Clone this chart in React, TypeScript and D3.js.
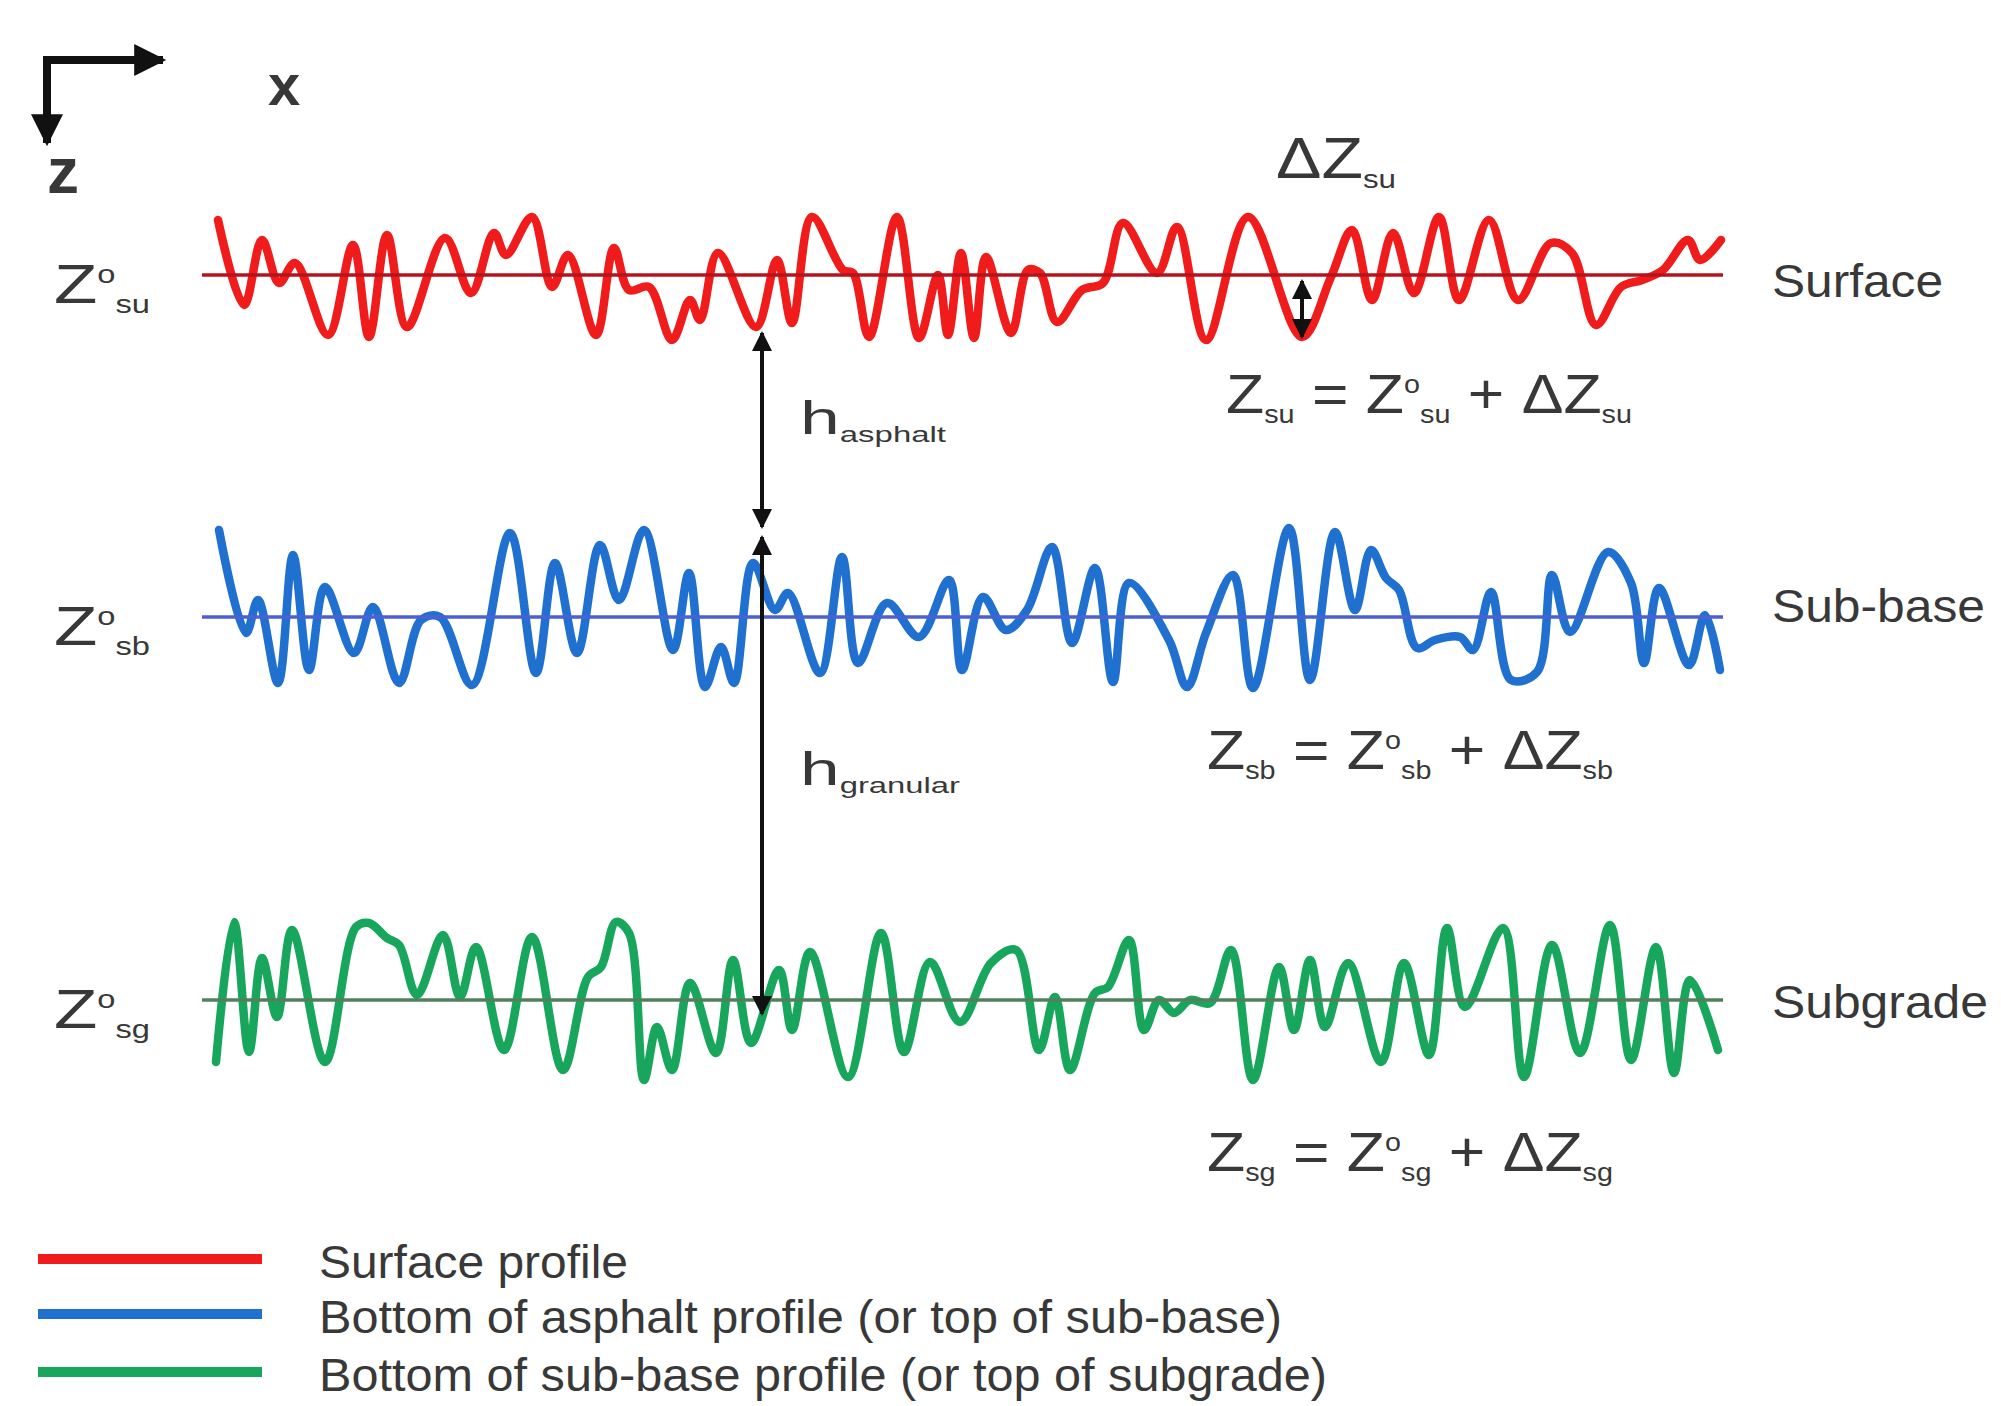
import { useRef, useEffect } from "react";
import * as d3 from "d3";

const W = 2001;
const H = 1406;

/** layers: interface name, subscript, nominal depth (mm) */
const layerNames = ["Surface", "Sub-base", "Subgrade"];
const layerSubs = ["su", "sb", "sg"];
const layerDepths = [0, 171, 362.5];
const profileColors = ["#f01c1c", "#1f70cf", "#18a65c"];
const baseColors = ["#b5141c", "#4c60d4", "#52805d"];

const legendLabels = [
  "Surface profile",
  "Bottom of asphalt profile (or top of sub-base)",
  "Bottom of sub-base profile (or top of subgrade)",
];

/** [station, deviation dz (mm, + downwards)] */
const surfaceProfile: [number, number][] = [
  [21.8, -27.5], [24.4, 15], [26.2, -17.5], [27.9, 4], [29.5, -6], [32.8, 30],
  [35.3, -15], [36.9, 31], [38.7, -20], [40.7, 26], [44.5, -18.5], [47.1, 9],
  [49.4, -21], [50.6, -10], [53.2, -29], [55.2, 6], [56.8, -10], [59.6, 30],
  [61.4, -13.5], [62.9, 7.5], [64.9, 6], [67.2, 32.5], [69.0, 12.5], [70.0, 22.5],
  [71.8, -11], [75.6, 26], [77.7, -7.5], [79.2, 24], [81.2, -29], [84.3, -2.5],
  [85.3, -1], [86.9, 31], [89.7, -29], [91.9, 31.5], [93.8, 0], [94.8, 30],
  [96.1, -11], [97.4, 31.5], [98.6, -9], [101.1, 29], [102.8, -2.5], [104.0, -1],
  [105.7, 23.5], [108.2, 7.5], [110.3, 4], [112.3, -26], [115.7, -1], [117.7, -24],
  [120.6, 32.5], [124.8, -29], [130.2, 31], [133.1, 1], [135.2, -22.5], [137.2, 12.5],
  [139.3, -21], [141.4, 9], [143.9, -29], [145.9, 12.5], [148.9, -27.5], [151.8, 12.5],
  [155.1, -16], [157.2, -11], [159.6, 25], [162.1, 6], [164.2, 2.5], [166.3, -2.5],
  [168.8, -17.5], [170.0, -7.5], [172.1, -17.5],
];

const subbaseProfile: [number, number][] = [
  [21.9, -43.5], [24.6, 8], [25.8, -8.5], [27.8, 33], [29.3, -31], [30.9, 26.5],
  [32.5, -15], [35.4, 18], [37.3, -5], [39.9, 33], [42.1, 1.5], [44.0, 0],
  [47.2, 34], [51.0, -42], [53.6, 28], [55.5, -27], [57.7, 18], [60.0, -36],
  [61.9, -8.5], [64.4, -43.5], [67.3, 16.5], [68.9, -22], [70.5, 35], [72.1, 15],
  [73.4, 33], [75.3, -27], [77.5, -3.5], [78.8, -12], [82.0, 28], [84.2, -30],
  [85.8, 23], [88.7, -7], [91.9, 10], [94.9, -18.5], [96.2, 26.5], [98.3, -10],
  [100.6, 6.5], [102.7, -3.5], [105.2, -35], [107.2, 13], [109.5, -24.5], [111.3, 32.5],
  [112.9, -17], [116.9, 11.5], [118.7, 35], [120.6, 8], [123.3, -21], [125.3, 35.5],
  [128.9, -44.5], [131.0, 31.5], [133.5, -42.5], [135.5, -3.5], [137.1, -33.5], [138.6, -19.5],
  [139.9, -13.5], [141.7, 15.5], [143.5, 11.5], [146.0, 10], [147.3, 16.5], [149.1, -12.5],
  [151.1, 31.5], [153.7, 27.5], [155.2, -21], [157.0, 7.5], [160.8, -32.5], [163.1, -17],
  [164.4, 23], [165.9, -14.5], [168.9, 24], [170.5, -1], [172.0, 26.5],
];

const subgradeProfile: [number, number][] = [
  [21.6, 31], [23.4, -39], [24.9, 26], [26.2, -21], [27.7, 8.5], [29.2, -35],
  [32.5, 31], [35.6, -36.5], [36.9, -38.5], [38.7, -31], [39.9, -27.5], [41.7, -2.5],
  [44.3, -32.5], [46.0, -1.5], [47.6, -26.5], [50.4, 25], [53.2, -31.5], [56.3, 35],
  [58.8, -11.5], [60.1, -16.5], [61.6, -39], [62.9, -33.5], [64.4, 40], [65.7, 13.5],
  [67.2, 35], [69.0, -8.5], [71.6, 26.5], [73.3, -20], [75.1, 21.5], [77.9, -15],
  [79.2, 15], [81.0, -24], [84.8, 38.5], [88.1, -33.5], [90.4, 26], [93.0, -19],
  [96.0, 11], [99.1, -18.5], [101.6, -25], [103.9, 25], [105.5, -1.5], [107.0, 35],
  [109.5, -3.5], [110.8, -6.5], [112.9, -30], [114.4, 15], [115.9, 0], [117.4, 6.5],
  [119.0, 0], [121.0, 1.5], [123.1, -25], [125.3, 40], [127.9, -16.5], [129.4, 15],
  [131.0, -20], [132.5, 13.5], [134.8, -18.5], [138.1, 31], [140.4, -18.5], [142.9, 27.5],
  [144.7, -36], [146.5, 3.5], [150.3, -36], [152.4, 38.5], [155.2, -27.5], [158.0, 26.5],
  [161.0, -37.5], [163.1, 30], [165.6, -26.5], [167.4, 36.5], [169.0, -10], [171.8, 25],
];

const profiles = [surfaceProfile, subbaseProfile, subgradeProfile];
const stationExtent = [20.2, 172.3];

/** thickness arrows: [layer, dz] start and end, at one station */
const thicknessStation = 76.2;
const hAsphalt = [[0, 29], [1, -45]];
const hGranular = [[1, -40], [2, 7]];
const deltaStation = 130.2;
const deltaDz = 31;

const FONT = "'Liberation Sans', Arial, 'DejaVu Sans', sans-serif";
const INK = "#383838";

type Part = { t: string; k?: "sub" | "sup" };

function rich(g: any, x: number, y: number, parts: Part[], size: number, len?: number) {
  const t = g
    .append("text")
    .attr("x", x)
    .attr("y", y)
    .attr("font-size", size)
    .style("white-space", "pre");
  let shift = 0;
  parts.forEach((p) => {
    const target = p.k === "sub" ? size * 0.18 : p.k === "sup" ? -size * 0.36 : 0;
    t.append("tspan")
      .attr("dy", target - shift)
      .attr("font-size", p.k ? size * 0.46 : size)
      .text(p.t);
    shift = target;
  });
  if (len) t.attr("textLength", len).attr("lengthAdjust", "spacingAndGlyphs");
  return t;
}

const App = () => {
  const ref = useRef<SVGSVGElement>(null);

  useEffect(() => {
    const svg = d3.select(ref.current);
    svg.selectAll("*").remove();

    svg.append("rect").attr("width", W).attr("height", H).attr("fill", "#ffffff");

    const defs = svg.append("defs");
    const addHead = (id: string, w: number, h: number) =>
      defs
        .append("marker")
        .attr("id", id)
        .attr("viewBox", "0 0 10 10")
        .attr("refX", 9)
        .attr("refY", 5)
        .attr("markerUnits", "userSpaceOnUse")
        .attr("markerWidth", w)
        .attr("markerHeight", h)
        .attr("orient", "auto-start-reverse")
        .append("path")
        .attr("d", "M0,0 L10,5 L0,10 Z")
        .attr("fill", "#111");
    addHead("head", 24, 20);
    addHead("bighead", 38, 32);

    const x = d3.scaleLinear().domain([20, 172.5]).range([200, 1725]);
    const depth = d3.scaleLinear().domain([0, 362.5]).range([275, 1000]);

    const g = svg.append("g").attr("font-family", FONT).attr("fill", INK);

    /** 坐标轴小图标 */
    svg
      .append("path")
      .attr("d", "M47,143 V60 H163")
      .attr("fill", "none")
      .attr("stroke", "#111")
      .attr("stroke-width", 8)
      .attr("stroke-linejoin", "miter")
      .attr("marker-start", "url(#bighead)")
      .attr("marker-end", "url(#bighead)");
    g.append("text").attr("x", 268).attr("y", 105).attr("font-size", 58).attr("font-weight", "bold").text("x");
    g.append("text").attr("x", 47).attr("y", 193).attr("font-size", 64).attr("font-weight", "bold").text("z");

    const line = d3
      .line<[number, number]>()
      .x((d) => x(d[0]))
      .y((d) => d[1])
      .curve(d3.curveCatmullRom.alpha(0.5));

    profiles.forEach((prof, i) => {
      const d0 = layerDepths[i];
      svg
        .append("path")
        .attr("d", line(prof.map((p) => [p[0], depth(d0 + p[1])] as [number, number])))
        .attr("fill", "none")
        .attr("stroke", profileColors[i])
        .attr("stroke-width", 8.5)
        .attr("stroke-linejoin", "round")
        .attr("stroke-linecap", "round");
      svg
        .append("line")
        .attr("x1", x(stationExtent[0]))
        .attr("x2", x(stationExtent[1]))
        .attr("y1", depth(d0))
        .attr("y2", depth(d0))
        .attr("stroke", baseColors[i])
        .attr("stroke-width", 3.5);

      // left: Z°xx
      rich(g, 54, depth(d0) + 28, [{ t: "Z" }, { t: "o", k: "sup" }, { t: layerSubs[i], k: "sub" }], 56, 96);
      // right: layer name
      g.append("text")
        .attr("x", 1772)
        .attr("y", depth(d0) + [22, 5, 18][i])
        .attr("font-size", 46)
        .attr("textLength", [171, 213, 216][i])
        .attr("lengthAdjust", "spacingAndGlyphs")
        .text(layerNames[i]);
    });

    /** 公式 */
    const formulaX = [1226, 1207, 1207];
    const formulaDy = [138, 152, 171];
    layerSubs.forEach((s, i) => {
      rich(
        g,
        formulaX[i],
        depth(layerDepths[i]) + formulaDy[i],
        [
          { t: "Z" }, { t: s, k: "sub" }, { t: " = " }, { t: "Z" }, { t: "o", k: "sup" },
          { t: s, k: "sub" }, { t: " + ΔZ" }, { t: s, k: "sub" },
        ],
        56,
        406
      );
    });
    rich(g, 1276, 178, [{ t: "ΔZ" }, { t: "su", k: "sub" }], 58, 120);

    /** 厚度箭头 */
    const ax = x(thicknessStation);
    [hAsphalt, hGranular].forEach((a) => {
      svg
        .append("line")
        .attr("x1", ax)
        .attr("x2", ax)
        .attr("y1", depth(layerDepths[a[0][0]] + a[0][1]))
        .attr("y2", depth(layerDepths[a[1][0]] + a[1][1]))
        .attr("stroke", "#111")
        .attr("stroke-width", 4)
        .attr("marker-start", "url(#head)")
        .attr("marker-end", "url(#head)");
    });
    rich(g, 800, 434, [{ t: "h" }, { t: "asphalt", k: "sub" }], 46, 146);
    rich(g, 800, 785, [{ t: "h" }, { t: "granular", k: "sub" }], 46, 160);

    const dx = x(deltaStation);
    svg
      .append("line")
      .attr("x1", dx)
      .attr("x2", dx)
      .attr("y1", depth(0) + 6)
      .attr("y2", depth(deltaDz))
      .attr("stroke", "#111")
      .attr("stroke-width", 4)
      .attr("marker-start", "url(#head)")
      .attr("marker-end", "url(#head)");

    /** 图例 */
    const legendY = [1259, 1314, 1372];
    legendLabels.forEach((lab, i) => {
      svg
        .append("line")
        .attr("x1", 38)
        .attr("x2", 262)
        .attr("y1", legendY[i])
        .attr("y2", legendY[i])
        .attr("stroke", profileColors[i])
        .attr("stroke-width", 10);
      g.append("text")
        .attr("x", 319)
        .attr("y", legendY[i] + 19)
        .attr("font-size", 46)
        .attr("textLength", [309, 963, 1008][i])
        .attr("lengthAdjust", "spacingAndGlyphs")
        .text(lab);
    });
  }, []);

  return (
    <svg
      ref={ref}
      width={W}
      height={H}
      style={{ position: "absolute", left: 0, top: 0, display: "block" }}
    />
  );
};

export default App;
